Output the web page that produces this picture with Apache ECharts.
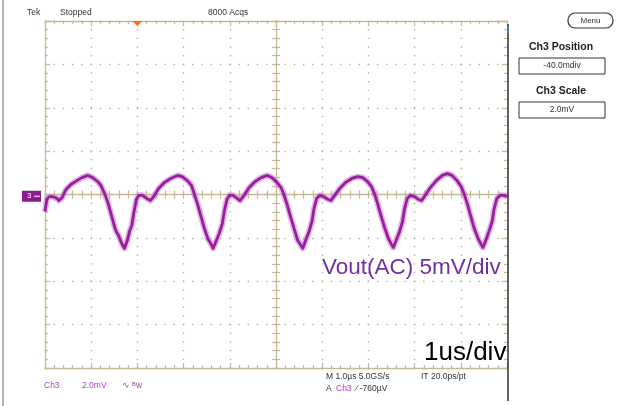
<!DOCTYPE html>
<html>
<head>
<meta charset="utf-8">
<script src="https://cdn.jsdelivr.net/npm/echarts@6/dist/echarts.min.js"></script>
<style>
  html, body { margin: 0; padding: 0; background: #ffffff; }
  #scope { width: 622px; height: 406px; }
</style>
</head>
<body>
<div id="scope"></div>
<script>
// Channel 3 acquisition: time in microseconds, amplitude in screen divisions.
const timeUs = [
  0.00, 0.04, 0.09, 0.17, 0.26, 0.30, 0.37, 0.45, 0.56, 0.69, 0.80, 0.93, 1.03, 1.14, 1.21, 1.29, 1.36, 1.42, 1.51, 1.55, 1.59, 1.66, 1.72,
  1.79, 1.83, 1.88, 1.92, 1.98, 2.03, 2.11, 2.20, 2.28, 2.35, 2.46, 2.59, 2.72, 2.87, 2.97, 3.08, 3.17, 3.23, 3.30, 3.36, 3.45, 3.53, 3.60, 3.64,
  3.71, 3.77, 3.84, 3.88, 3.94, 3.99, 4.07, 4.16, 4.22, 4.31, 4.42, 4.55, 4.68, 4.81, 4.91, 5.02, 5.11, 5.17, 5.24, 5.30, 5.39, 5.47, 5.54, 5.58,
  5.65, 5.71, 5.78, 5.82, 5.88, 5.95, 6.03, 6.12, 6.19, 6.27, 6.38, 6.51, 6.64, 6.77, 6.88, 6.98, 7.07, 7.13, 7.20, 7.26, 7.35, 7.44, 7.50, 7.54,
  7.61, 7.67, 7.74, 7.78, 7.84, 7.91, 8.00, 8.08, 8.15, 8.23, 8.34, 8.47, 8.60, 8.71, 8.81, 8.92, 9.01, 9.07, 9.14, 9.20, 9.29, 9.38, 9.44, 9.48,
  9.55, 9.61, 9.68, 9.72, 9.78, 9.85, 9.94, 10.00
];
const ch3Div = [
  -0.39, -0.11, -0.05, -0.05, -0.09, -0.14, -0.07, 0.11, 0.23, 0.32, 0.39, 0.44, 0.39, 0.30, 0.21, 0.02, -0.18, -0.41, -0.76, -0.87, -0.94, -1.13, -1.24,
  -1.03, -0.85, -0.71, -0.44, -0.11, -0.02, -0.02, -0.09, -0.14, -0.05, 0.14, 0.28, 0.37, 0.44, 0.41, 0.32, 0.21, 0.02, -0.21, -0.44, -0.78, -1.03, -1.15, -1.24,
  -1.06, -0.90, -0.67, -0.39, -0.11, -0.02, -0.02, -0.09, -0.14, -0.02, 0.16, 0.30, 0.39, 0.44, 0.39, 0.28, 0.16, 0.00, -0.23, -0.46, -0.78, -1.06, -1.17, -1.24,
  -1.03, -0.87, -0.62, -0.34, -0.09, -0.02, -0.05, -0.11, -0.14, -0.02, 0.14, 0.28, 0.37, 0.41, 0.39, 0.30, 0.18, 0.02, -0.21, -0.44, -0.76, -1.03, -1.15, -1.22,
  -1.03, -0.87, -0.62, -0.34, -0.09, -0.02, -0.05, -0.11, -0.14, -0.02, 0.16, 0.32, 0.44, 0.48, 0.44, 0.32, 0.18, 0.02, -0.21, -0.44, -0.78, -1.03, -1.15, -1.22,
  -1.03, -0.85, -0.62, -0.34, -0.09, -0.02, -0.02, -0.05
];

// Graticule: 10 horizontal x 8 vertical divisions, 5 minor steps each.
const timeRange = [0, 10];
const divRange = [-4, 4];
const triggerTimeUs = 2.0;
const groundLevelDiv = -0.04;   // Ch3 position -40.0 mdiv

// Readout texts
const statusTexts = ['Tek', 'Stopped', '8000 Acqs'];
const sideTitles = ['Ch3 Position', 'Ch3 Scale'];
const sideValues = ['-40.0mdiv', '2.0mV'];
const bottomLeftTexts = ['Ch3', '2.0mV', '\u223F \u1D2Ew'];
const timebaseTexts = ['M 1.0\u00B5s 5.0GS/s', 'IT 20.0ps/pt'];
const triggerTexts = ['A', 'Ch3', '\u2215 -760\u00B5V'];
const traceNote = 'Vout(AC) 5mV/div';
const timeNote = '1us/div';

const FONT = '"Liberation Sans", Arial, sans-serif';
const TAN = '#c4bb96';
const DOT = '#b2b2ac';
const TRACE = '#9a1d9f';
const CH_COLOR = '#b03cbe';

const G = { left: 45, top: 21, width: 462, height: 347 };

const trace = timeUs.map((t, i) => [t, ch3Div[i]]);

function borderAxis(pos, extra) {
  return Object.assign({
    type: 'value', position: pos, min: null, max: null, interval: 1,
    axisLine: { show: true, onZero: false, lineStyle: { color: TAN, width: 1.3 } },
    axisTick: { show: true, inside: true, length: 5, lineStyle: { color: TAN, width: 1.2 } },
    minorTick: { show: true, splitNumber: 5, length: 3, lineStyle: { color: TAN, width: 1.2 } },
    axisLabel: { show: false },
    splitLine: { show: false }
  }, extra);
}

function xAx(pos, extra) {
  return borderAxis(pos, Object.assign({ min: timeRange[0], max: timeRange[1] }, extra));
}
function yAx(pos, extra) {
  return borderAxis(pos, Object.assign({ min: divRange[0], max: divRange[1] }, extra));
}

const centerTick = (inside) => ({
  axisTick: { show: true, inside: inside, length: 4, lineStyle: { color: TAN, width: 1.2 } },
  minorTick: { show: true, splitNumber: 5, length: 4, lineStyle: { color: TAN, width: 1.2 } }
});

const chart = echarts.init(document.getElementById('scope'), null, { renderer: 'canvas' });

chart.setOption({
  animation: false,
  backgroundColor: '#ffffff',
  grid: { left: G.left, top: G.top, width: G.width, height: G.height, containLabel: false },
  xAxis: [
    xAx('bottom', {
      splitLine: { show: true, lineStyle: { color: DOT, width: 1.4, type: [1.4, G.height / 40 - 1.4], dashOffset: 0.7 } }
    }),
    xAx('top'),
    xAx('bottom', Object.assign({ offset: -G.height / 2 }, centerTick(true))),
    xAx('bottom', Object.assign({ offset: -G.height / 2, axisLine: { show: false, onZero: false } }, centerTick(false)))
  ],
  yAxis: [
    yAx('left', {
      splitLine: { show: true, lineStyle: { color: DOT, width: 1.4, type: [1.4, G.width / 50 - 1.4], dashOffset: 0.7 } }
    }),
    yAx('right', { axisLine: { show: false, onZero: false } }),
    yAx('left', Object.assign({ offset: -G.width / 2 }, centerTick(true))),
    yAx('left', Object.assign({ offset: -G.width / 2, axisLine: { show: false, onZero: false } }, centerTick(false)))
  ],
  series: [
    {
      name: 'Ch3 halo', type: 'line', xAxisIndex: 0, yAxisIndex: 0, data: trace,
      showSymbol: false, symbol: 'none', silent: true, z: 3,
      lineStyle: { color: 'rgba(196,120,206,0.55)', width: 6, join: 'round' }
    },
    {
      name: 'Ch3', type: 'line', xAxisIndex: 0, yAxisIndex: 0, data: trace,
      showSymbol: false, symbol: 'none', z: 4,
      lineStyle: { color: TRACE, width: 2.8, join: 'round' }
    }
  ]
});

// Readouts and markers drawn around the graticule
const trigX = chart.convertToPixel({ xAxisIndex: 0 }, triggerTimeUs);
const gndY = chart.convertToPixel({ yAxisIndex: 0 }, groundLevelDiv);
const txt = (x, y, s, opt) => ({
  type: 'text', x: x, y: y, z: 20,
  style: Object.assign({ text: s, font: '8.5px ' + FONT, fill: '#333333', textVerticalAlign: 'middle' }, opt || {})
});

chart.setOption({
  graphic: [
    // screen edges
    { type: 'line', z: 15, shape: { x1: 3, y1: 0, x2: 3, y2: 406 }, style: { stroke: '#9c9c9c', lineWidth: 1.5 } },
    { type: 'line', z: 15, shape: { x1: 508, y1: 24, x2: 508, y2: 401 }, style: { stroke: '#3c3c3c', lineWidth: 1.6 } },
    { type: 'line', z: 16, shape: { x1: 508, y1: 26, x2: 508, y2: 33 }, style: { stroke: '#3d7ad6', lineWidth: 1.6 } },
    // status line
    txt(27, 13, statusTexts[0]),
    txt(60, 13, statusTexts[1]),
    txt(208, 13, statusTexts[2]),
    // trigger position marker
    { type: 'polygon', z: 16, shape: { points: [[trigX - 5, G.top], [trigX + 5, G.top], [trigX, G.top + 5]] }, style: { fill: '#ff6a1a' } },
    // channel ground marker
    { type: 'rect', z: 16, shape: { x: 22, y: gndY - 5.5, width: 19, height: 11 }, style: { fill: '#8a1e8e' } },
    txt(27, gndY, '3', { fill: '#ffffff', font: '8px ' + FONT }),
    { type: 'line', z: 17, shape: { x1: 34, y1: gndY, x2: 40, y2: gndY }, style: { stroke: '#ffffff', lineWidth: 1 } },
    // side menu
    { type: 'rect', z: 16, shape: { x: 568, y: 13, width: 45, height: 15, r: 7 }, style: { fill: 'none', stroke: '#333333', lineWidth: 1.2 } },
    txt(590.5, 21, 'Menu', { textAlign: 'center', font: '8px ' + FONT }),
    txt(561, 47, sideTitles[0], { textAlign: 'center', font: 'bold 10.5px ' + FONT, fill: '#222222' }),
    { type: 'rect', z: 16, shape: { x: 519, y: 58, width: 86, height: 16 }, style: { fill: 'none', stroke: '#333333', lineWidth: 1 } },
    txt(562, 66, sideValues[0], { textAlign: 'center', font: '8.5px ' + FONT }),
    txt(561, 91, sideTitles[1], { textAlign: 'center', font: 'bold 10.5px ' + FONT, fill: '#222222' }),
    { type: 'rect', z: 16, shape: { x: 519, y: 102, width: 86, height: 16 }, style: { fill: 'none', stroke: '#333333', lineWidth: 1 } },
    txt(562, 110, sideValues[1], { textAlign: 'center', font: '8.5px ' + FONT }),
    // annotations on the screen
    txt(322, 268, traceNote, { font: '22.5px ' + FONT, fill: '#7030a0' }),
    txt(424, 353, timeNote, { font: '26px ' + FONT, fill: '#000000' }),
    // bottom readouts
    txt(44, 386, bottomLeftTexts[0], { fill: CH_COLOR }),
    txt(82, 386, bottomLeftTexts[1], { fill: CH_COLOR }),
    txt(122, 386, bottomLeftTexts[2], { fill: CH_COLOR }),
    txt(326, 377, timebaseTexts[0]),
    txt(421, 377, timebaseTexts[1]),
    txt(326, 389, triggerTexts[0]),
    txt(336, 389, triggerTexts[1], { fill: CH_COLOR }),
    txt(356, 389, triggerTexts[2])
  ]
});
</script>
</body>
</html>
